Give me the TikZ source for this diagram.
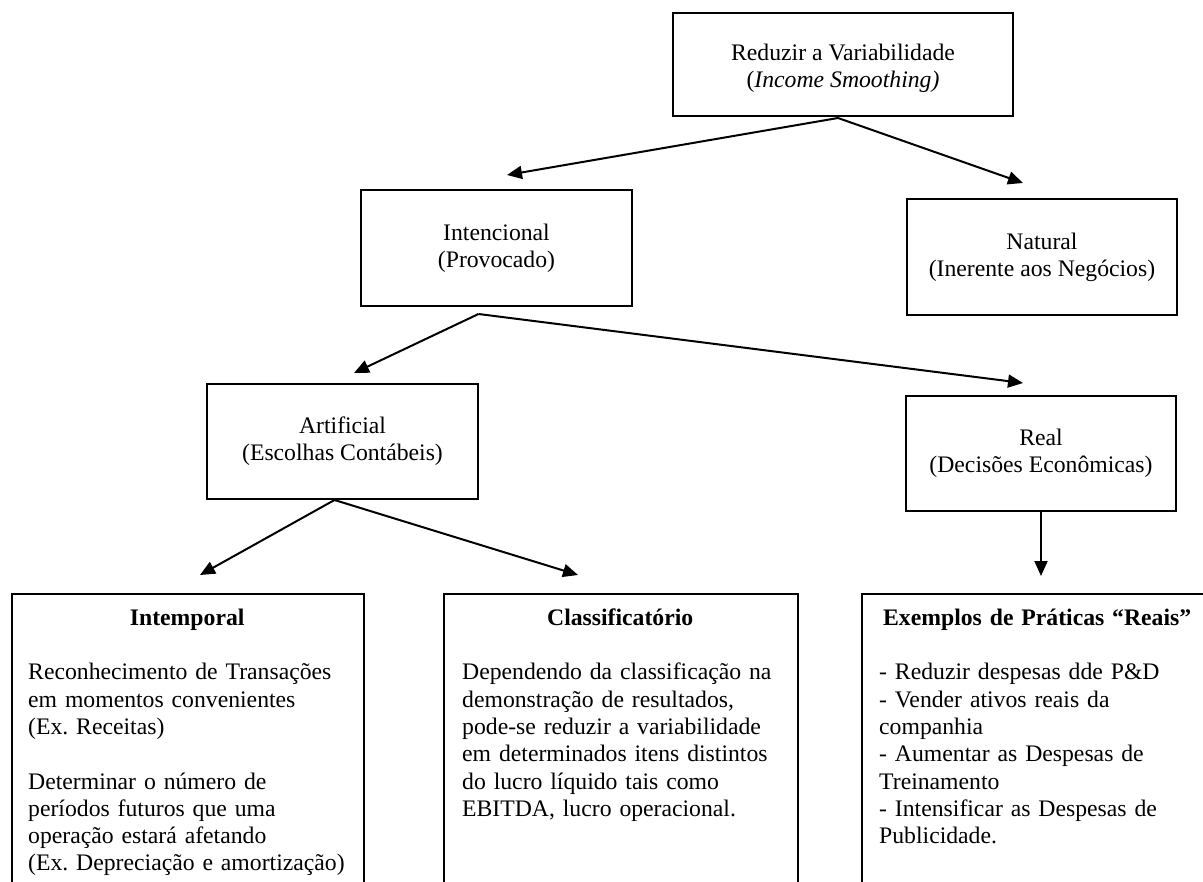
\documentclass[tikz,border=0pt]{standalone}
\usepackage{fontspec}
\setmainfont{Liberation Serif}
\usetikzlibrary{arrows.meta,calc}
\frenchspacing
\tikzset{
  box/.style={draw, line width=2pt, align=center, inner sep=0pt,
    font=\fontsize{23.7}{27.3}\selectfont},
  txt/.style={align=center, inner sep=0pt,
    font=\fontsize{23.7}{27.3}\selectfont},
  bigbox/.style={draw, line width=2.2pt, inner sep=0pt, anchor=north west},
  body/.style={inner sep=0pt, anchor=north west, align=left,
    font=\fontsize{23.7}{27.3}\selectfont},
  arr/.style={line width=2pt, -{Triangle[length=15pt,width=13pt]}}
}
\begin{document}
\begin{tikzpicture}[x=1pt,y=-1pt]
\useasboundingbox (0,0) rectangle (1203,882);
\clip (0,0) rectangle (1203,882);

% upper boxes
\node[box, minimum width=340pt, minimum height=103pt] (reduz) at (843,64.5) {};
\node[txt] (reduzT) at (843,68.5) {Reduzir a Variabilidade\\(\textit{Income Smoothing)}};
\node[box, minimum width=271pt, minimum height=116pt] (intenc) at (496.5,248) {Intencional\\(Provocado)};
\node[box, minimum width=270pt, minimum height=116pt] (natur) at (1042,257) {Natural\\(Inerente aos Negócios)};
\node[box, minimum width=271pt, minimum height=115pt] (artif) at (342.5,441.5) {Artificial\\(Escolhas Contábeis)};
\node[box, minimum width=270pt, minimum height=115pt] (real) at (1041,453.5) {Real\\(Decisões Econômicas)};

% lower boxes (open at the bottom of the picture)
\node[bigbox, minimum width=352pt, minimum height=330pt] (intemp) at (11,593) {};
\node[bigbox, minimum width=354pt, minimum height=330pt] (classif) at (443,593) {};
\node[bigbox, minimum width=352pt, minimum height=330pt] (exemp) at (861,593) {};

\node[body, text width=318pt] (intempT) at (28,605.9) {%
{\centering\strut\textbf{Intemporal}\par}\vskip 27.3pt
\mbox{Reconhecimento de Transações}\\
\mbox{em momentos convenientes}\\
\mbox{(Ex. Receitas)}\\[27.3pt]
\mbox{Determinar o número de}\\
\mbox{períodos futuros que uma}\\
\mbox{operação estará afetando}\\
\mbox{(Ex. Depreciação e amortização)}};

\node[body, text width=316pt] (classifT) at (462,605.9) {%
{\centering\strut\textbf{Classificatório}\par}\vskip 27.3pt
\mbox{Dependendo da classificação na}\\
\mbox{demonstração de resultados,}\\
\mbox{pode-se reduzir a variabilidade}\\
\mbox{em determinados itens distintos}\\
\mbox{do lucro líquido tais como}\\
\mbox{EBITDA, lucro operacional.}};

\node[body, text width=316pt] (exempT) at (879,605.9) {%
{\centering\strut\textbf{Exemplos de Práticas “Reais”}\par}\vskip 27.3pt
\mbox{- Reduzir despesas dde P\&D}\\
\mbox{- Vender ativos reais da}\\
\mbox{companhia}\\
\mbox{- Aumentar as Despesas de}\\
\mbox{Treinamento}\\
\mbox{- Intensificar as Despesas de}\\
\mbox{Publicidade.}};

% arrow end points
\coordinate (tIntenc) at (507,175);
\coordinate (tNatur) at (1023,183);
\coordinate (tArtif) at (354,373);
\coordinate (tReal) at (1023,383);
\coordinate (tIntemp) at (200,575);
\coordinate (tClassif) at (578,575);
\coordinate (tExemp) at (1041,576);

\coordinate (sReduz) at ($(reduz.south)+(-5,1)$);
\coordinate (sIntenc) at ($(intenc.south)+(-18,7)$);
\coordinate (sArtif) at ($(artif.south)+(-8,0)$);

\draw[arr] (sReduz) -- (tIntenc);
\draw[arr] (sReduz) -- (tNatur);
\draw[arr] (sIntenc) -- (tArtif);
\draw[arr] (sIntenc) -- (tReal);
\draw[arr] (sArtif) -- (tIntemp);
\draw[arr] (sArtif) -- (tClassif);
\draw[arr] (real.south) -- (tExemp);
\end{tikzpicture}
\end{document}
